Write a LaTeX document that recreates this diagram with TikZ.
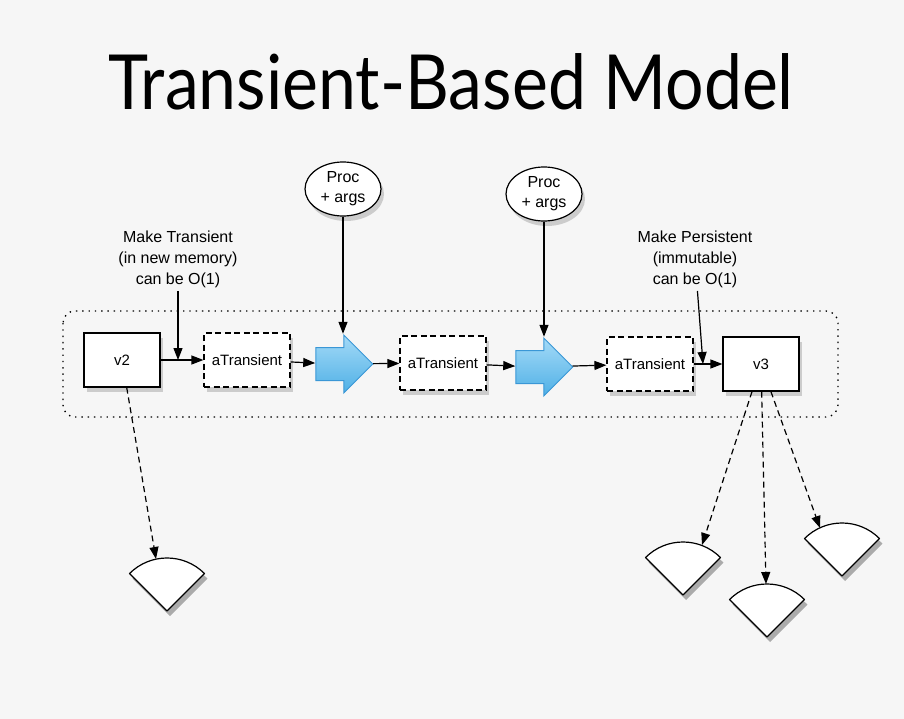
\documentclass[tikz,border=0pt]{standalone}
\usepackage{fontspec}
\setmainfont{Liberation Sans}
\newfontfamily\titlefont{Lato}
\usetikzlibrary{shapes.arrows,shapes.geometric,arrows.meta,shadows}
\definecolor{slidebg}{HTML}{F6F6F6}
\definecolor{procborder}{HTML}{3A97D6}
\definecolor{proctop}{HTML}{A4DAF7}
\definecolor{procbot}{HTML}{4FB0E6}

\begin{document}
\begin{tikzpicture}[x=1pt,y=-1pt,
    every node/.style={font=\fontsize{15}{20}\selectfont},
    val/.style={draw,fill=white,line width=1.2pt,minimum width=76pt,minimum height=54pt,inner sep=0pt,
      drop shadow={shadow xshift=3pt,shadow yshift=-5pt,opacity=.35}},
    trans/.style={val,dash pattern=on 6pt off 3.5pt,minimum width=86pt},
    proc/.style={single arrow,draw=procborder,line width=1pt,top color=proctop,bottom color=procbot,
      minimum height=57pt,minimum width=57pt,single arrow head extend=12.5pt,inner xsep=0pt,inner ysep=16pt},
    arg/.style={ellipse,draw,fill=white,line width=1.2pt,minimum width=76pt,minimum height=54pt,inner sep=0pt,
      align=center,font=\fontsize{16}{20}\selectfont,
      drop shadow={shadow xshift=3pt,shadow yshift=-5pt,opacity=.35}},
    note/.style={align=center,font=\fontsize{16}{21}\selectfont},
    conn/.style={line width=1.2pt,-{Triangle[length=12pt,width=9pt]}},
    ptr/.style={conn,dash pattern=on 6pt off 4pt}]
    \fill[slidebg] (0,0) rectangle (904,719);
    \node[anchor=base,font=\titlefont\fontsize{76}{80}\selectfont] (title) at (451,110)
      {\scalebox{0.894}[1]{Transient-Based Model}};
    % the group
    \draw[line width=1.3pt,dash pattern=on 1.4pt off 4.9pt,rounded corners=12pt] (63,311) rectangle (838,417);
    \node[val] (v2) at (122,360) {v2};
    \node[trans] (t1) at (247,360) {aTransient};
    \node[proc] (p1) at (336,364) {};
    \node[trans] (t2) at (443,363) {aTransient};
    \node[proc] (p2) at (536,367) {};
    \node[trans] (t3) at (650,364) {aTransient};
    \node[val] (v3) at (761,364) {v3};
    \node[arg] (a1) at (343,189) {Proc\\+ args};
    \node[arg] (a2) at (544,194) {Proc\\+ args};
    \node[note] (mt) at (178,259) {Make Transient\\(in new memory)\\can be O(1)};
    \node[note] (mp) at (695,259) {Make Persistent\\(immutable)\\can be O(1)};
    \coordinate (j1) at (mt |- v2);
    \coordinate (j2) at (703,364);
    \draw[conn] (v2) -- (t1);
    \draw[conn] (t1) -- (p1);
    \draw[conn] (p1) -- (t2);
    \draw[conn] (t2) -- (p2);
    \draw[conn] (p2) -- (t3);
    \draw[conn] (t3) -- (v3);
    \draw[conn] (a1) -- (a1 |- p1.before tip);
    \draw[conn] (a2) -- (a2 |- p2.before tip);
    \draw[conn] (mt) -- (j1);
    \draw[conn] (mp) -- (j2);
    % wedges
    \foreach \x/\y in {167/611,683/595,767/637,842/576}{
      \fill[black,opacity=.3] (\x+3,\y+5) -- ++(225:53) arc (225:315:53) -- cycle;
      \draw[fill=white,line width=1.2pt,line join=round] (\x,\y) -- ++(225:53) arc (225:315:53) -- cycle;
    }
    \coordinate (w1) at (156,559);
    \coordinate (w2) at (702,545);
    \coordinate (w3) at (766,584);
    \coordinate (w4) at (820,528);
    \draw[ptr] (v2) -- (w1);
    \draw[ptr] (v3) -- (w2);
    \draw[ptr] (v3) -- (w3);
    \draw[ptr] (v3) -- (w4);
\end{tikzpicture}
\end{document}
